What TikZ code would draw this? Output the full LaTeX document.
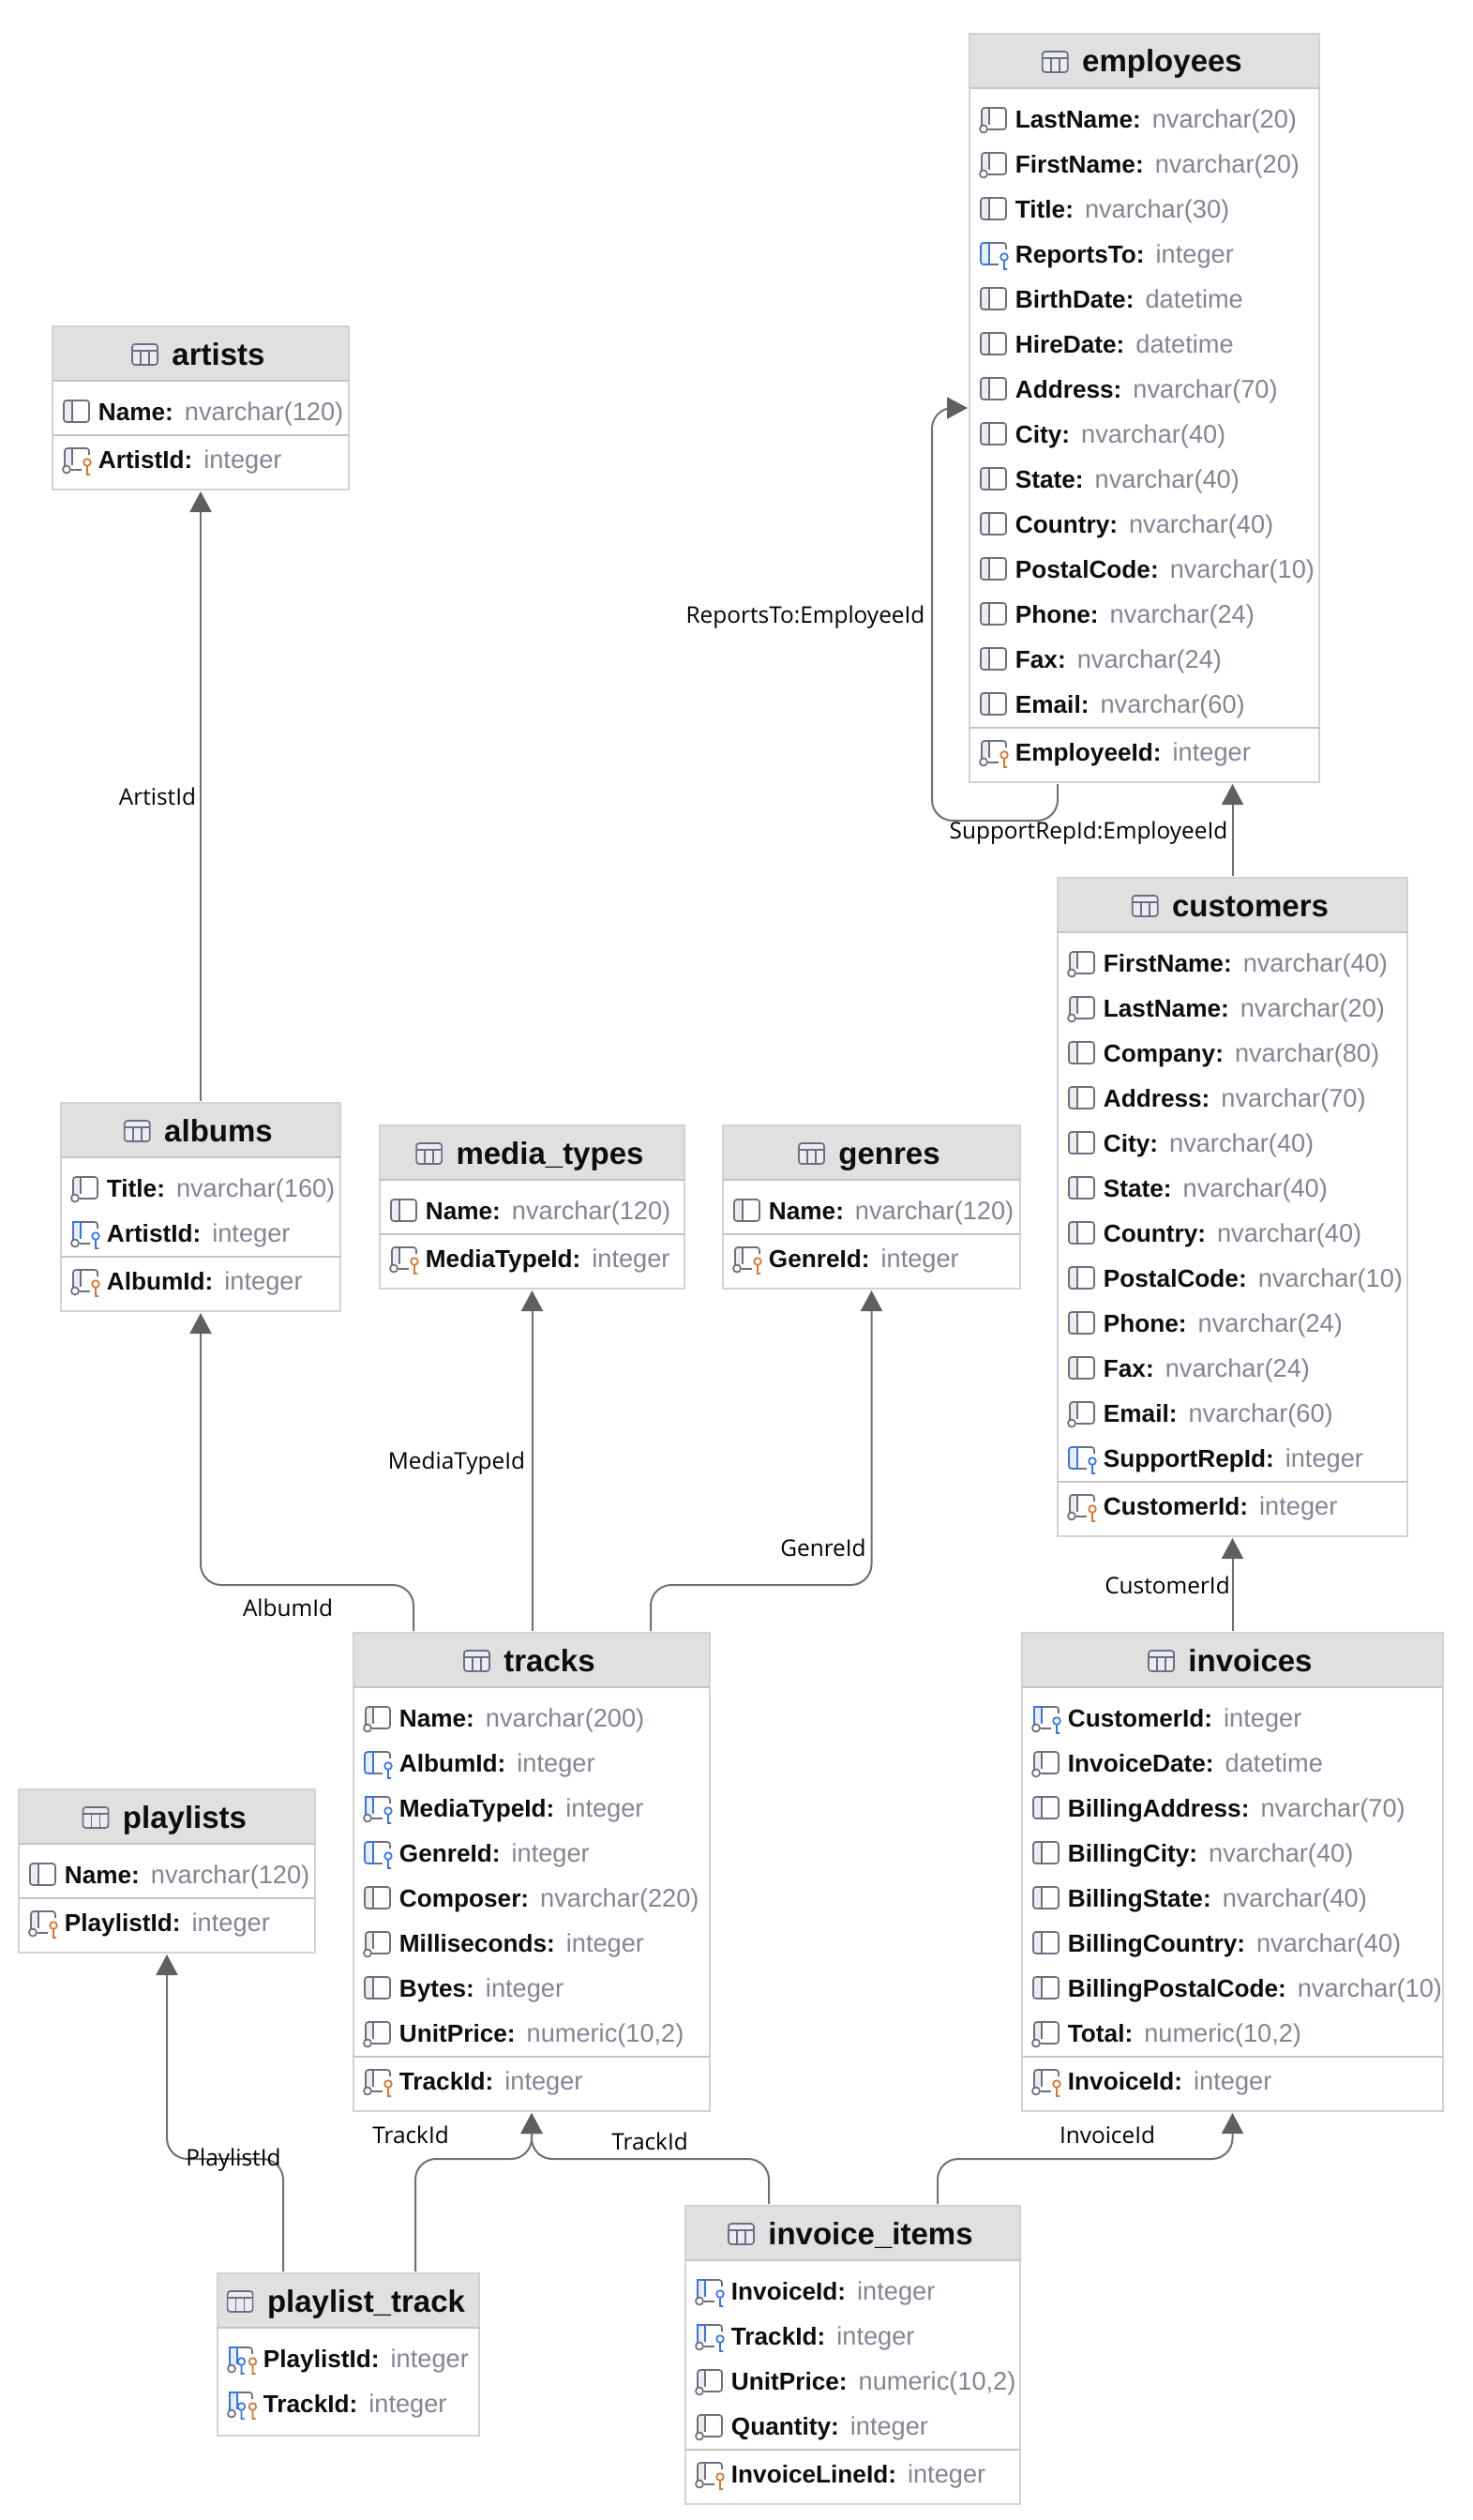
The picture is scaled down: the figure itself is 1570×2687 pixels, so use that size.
\documentclass[tikz,border=0pt]{standalone}
\usepackage{fontspec}
\setmainfont{Liberation Sans}
\newfontfamily\relfont{Open Sans}
\usetikzlibrary{arrows.meta}
\definecolor{framegrey}{HTML}{D2D2D2}
\definecolor{headgrey}{HTML}{E0E0E0}
\definecolor{lineg}{HTML}{C4C4C4}
\definecolor{typegrey}{HTML}{818594}
\definecolor{iconline}{HTML}{6C707E}
\definecolor{iconpanel}{HTML}{EBECF0}
\definecolor{fkblue}{HTML}{3574F0}
\definecolor{pkorange}{HTML}{D9752B}
\definecolor{relline}{HTML}{707070}
\definecolor{tipgrey}{HTML}{5F5F5F}
\tikzset{
  tableframe/.style={draw=framegrey, fill=white, line width=0.75pt, rectangle, anchor=north west, inner sep=0pt, outer sep=1pt, xshift=-1pt, yshift=1pt},
  tablehead/.style={draw=framegrey, fill=headgrey, line width=0.75pt, rectangle, anchor=north west, inner sep=0pt, outer sep=0pt, minimum height=29pt},
  tabletitle/.style={anchor=base, inner sep=0pt, font=\fontsize{16.5}{18}\selectfont\bfseries, text=black!95},
  fieldtext/.style={anchor=base west, inner sep=0pt, font=\fontsize{13.1}{15}\selectfont, text=black!95},
  divider/.style={draw=lineg, line width=1pt},
  rel/.style={draw=relline, line width=1pt, rounded corners=11pt, -{Triangle[length=11pt,width=11.5pt,color=tipgrey]}},
  rellabel/.style={inner sep=0pt, font=\relfont\fontsize{12.2}{14}\selectfont, text=black},
  icon/.style={draw=#1, line width=0.85pt},
  icon/.default=iconline,
  % column icons, origin at the middle of the left edge
  col/.pic={
    \fill[iconpanel] (0,-12) rectangle (9,11);
    \draw[icon, rounded corners=1.5pt] (0,-12) rectangle (27,11);
    \draw[icon] (9,-12) -- (9,11);
  },
  nul/.pic={
    \fill[iconpanel] (1,-12) rectangle (9,6);
    \draw[icon, rounded corners=1.5pt] (1,7) -- (1,-12) -- (27,-12) -- (27,11) -- (8,11);
    \draw[icon] (9,-12) -- (9,6);
    \draw[icon, fill=white] (3,10.5) circle (4);
  },
  fk/.pic={
    \fill[iconpanel] (0,-12) rectangle (9,11);
    \draw[icon, rounded corners=1.5pt] (9,-12) -- (27,-12) -- (27,-5);
    \draw[icon] (9,11) -- (19,11);
    \draw[icon=fkblue, rounded corners=1.5pt] (9,-12) -- (0,-12) -- (0,11) -- (9,11);
    \draw[icon=fkblue] (9,-12) -- (9,11);
    \draw[icon=fkblue] (25,3) circle (3.8) (25,7) -- (25,16) -- (28,16);
  },
  fkn/.pic={
    \fill[iconpanel] (1,-12) rectangle (9,6);
    \draw[icon, rounded corners=1.5pt] (9,-12) -- (27,-12) -- (27,-5);
    \draw[icon] (8,11) -- (19,11);
    \draw[icon=fkblue] (1,7) -- (1,-12) -- (9,-12) -- (9,6);
    \draw[icon, fill=white] (3,10.5) circle (4);
    \draw[icon=fkblue] (25,3) circle (3.8) (25,7) -- (25,16) -- (28,16);
  },
  pkey/.pic={
    \fill[iconpanel] (1,-12) rectangle (9,6);
    \draw[icon, rounded corners=1.5pt] (1,7) -- (1,-12) -- (27,-12) -- (27,-5);
    \draw[icon] (8,11) -- (19,11) (9,-12) -- (9,6);
    \draw[icon, fill=white] (3,10.5) circle (4);
    \draw[icon=pkorange] (25,3) circle (3.8) (25,7) -- (25,16) -- (28,16);
  },
  both/.pic={
    \fill[iconpanel] (1,-12) rectangle (9,6);
    \draw[icon, rounded corners=1.5pt] (9,-12) -- (25,-12) -- (25,-5);
    \draw[icon=fkblue] (1,7) -- (1,-12) -- (9,-12) -- (9,6);
    \draw[icon, fill=white] (3,10.5) circle (4);
    \draw[icon=fkblue] (13.5,3) circle (3.8) (13.5,7) -- (13.5,16) -- (16.5,16);
    \draw[icon=pkorange] (25.5,3) circle (3.8) (25.5,7) -- (25.5,16) -- (28.5,16);
  },
  tablegrid/.pic={
    \fill[iconpanel] (0,-11) rectangle (27,11);
    \draw[icon, rounded corners=1.5pt] (0,-11) rectangle (27,11);
    \draw[icon] (0,-4) -- (27,-4) (9,-4) -- (9,11) (18,-4) -- (18,11);
  }
}
% name, left, right, top, bottom, title, fields
\newcommand{\erdtable}[7]{
  \node[tableframe, minimum width={(#3-#2)*0.5pt}, minimum height={(#5-#4)*0.5pt}] (#1) at (#2,#4) {};
  \node[tablehead, minimum width={(#3-#2)*0.5pt}] (#1-head) at (#2,#4) {};
  \node[tabletitle] (#1-title) at ([xshift=9.5pt,yshift=-6pt]#1-head.center) {#6};
  \pic at ([xshift=-21pt,yshift=5.5pt]#1-title.base west) {tablegrid};
  \draw[divider] (#1-head.south west) -- (#1-head.south east);
  \foreach \kind/\fname/\ftype [count=\n] in {#7} {
    \pgfmathsetmacro{\rowy}{#4+91+48*(\n-1)}
    \pic at (#2+12,\rowy) {\kind};
    \node[fieldtext] (#1-\n) at (#2+48.5,\rowy+9.5) {\textbf{\fname:}\hspace{6pt}{\color{typegrey}\fontsize{13.6}{15}\selectfont\ftype}};
  }
}
% name, left, right, y of the divider, field
\newcommand{\erdkey}[5]{
  \draw[divider] (#2,#4) -- (#3,#4);
  \pic at (#2+12,#4+26) {pkey};
  \node[fieldtext] (#1-key) at (#2+48.5,#4+35.5) {\textbf{#5:}\hspace{6pt}{\color{typegrey}\fontsize{13.6}{15}\selectfont integer}};
}
\begin{document}
\begin{tikzpicture}[x=0.5pt, y=-0.5pt]
    \useasboundingbox (0,0) rectangle (1570,2687);

    % Place tables
    \erdtable{employees}{1034}{1407}{36}{834}{employees}{nul/LastName/nvarchar(20), nul/FirstName/nvarchar(20), col/Title/nvarchar(30), fk/ReportsTo/integer, col/BirthDate/datetime, col/HireDate/datetime, col/Address/nvarchar(70), col/City/nvarchar(40), col/State/nvarchar(40), col/Country/nvarchar(40), col/PostalCode/nvarchar(10), col/Phone/nvarchar(24), col/Fax/nvarchar(24), col/Email/nvarchar(60)}
    \erdkey{employees}{1034}{1407}{776}{EmployeeId}

    \erdtable{artists}{56}{372}{348}{522}{artists}{col/Name/nvarchar(120)}
    \erdkey{artists}{56}{372}{464}{ArtistId}

    \erdtable{customers}{1128}{1501}{936}{1638}{customers}{nul/FirstName/nvarchar(40), nul/LastName/nvarchar(20), col/Company/nvarchar(80), col/Address/nvarchar(70), col/City/nvarchar(40), col/State/nvarchar(40), col/Country/nvarchar(40), col/PostalCode/nvarchar(10), col/Phone/nvarchar(24), col/Fax/nvarchar(24), nul/Email/nvarchar(60), fk/SupportRepId/integer}
    \erdkey{customers}{1128}{1501}{1580}{CustomerId}

    \erdtable{albums}{65}{363}{1176}{1398}{albums}{nul/Title/nvarchar(160), fkn/ArtistId/integer}
    \erdkey{albums}{65}{363}{1340}{AlbumId}

    \erdtable{media_types}{405}{730}{1200}{1374}{media\_types}{col/Name/nvarchar(120)}
    \erdkey{media_types}{405}{730}{1316}{MediaTypeId}

    \erdtable{genres}{771}{1088}{1200}{1374}{genres}{col/Name/nvarchar(120)}
    \erdkey{genres}{771}{1088}{1316}{GenreId}

    \erdtable{tracks}{377}{757}{1741}{2251}{tracks}{nul/Name/nvarchar(200), fk/AlbumId/integer, fkn/MediaTypeId/integer, fk/GenreId/integer, col/Composer/nvarchar(220), nul/Milliseconds/integer, col/Bytes/integer, nul/UnitPrice/{numeric(10,2)}}
    \erdkey{tracks}{377}{757}{2193}{TrackId}

    \erdtable{invoices}{1090}{1539}{1741}{2251}{invoices}{fkn/CustomerId/integer, nul/InvoiceDate/datetime, col/BillingAddress/nvarchar(70), col/BillingCity/nvarchar(40), col/BillingState/nvarchar(40), col/BillingCountry/nvarchar(40), col/BillingPostalCode/nvarchar(10), nul/Total/{numeric(10,2)}}
    \erdkey{invoices}{1090}{1539}{2193}{InvoiceId}

    \erdtable{playlists}{20}{336}{1908}{2082}{playlists}{col/Name/nvarchar(120)}
    \erdkey{playlists}{20}{336}{2024}{PlaylistId}

    \erdtable{playlist_track}{232}{511}{2424}{2597}{playlist\_track}{both/PlaylistId/integer, both/TrackId/integer}

    \erdtable{invoice_items}{731}{1088}{2352}{2670}{invoice\_items}{fkn/InvoiceId/integer, fkn/TrackId/integer, nul/UnitPrice/{numeric(10,2)}, nul/Quantity/integer}
    \erdkey{invoice_items}{731}{1088}{2612}{InvoiceLineId}

    % Draw edges
    \path [rel] (albums.north) -- (artists.south);
    \path [rel] ([xshift=33pt]tracks.north west) -- ++(0,-49) -| (albums.south);
    \path [rel] (media_types.south |- tracks.north) -- (media_types.south);
    \path [rel] ([xshift=159.5pt]tracks.north west) -- ++(0,-49) -| (genres.south);
    \path [rel] (invoices.north) -- (customers.south);
    \path [rel] (customers.north) -- (customers.north |- employees.south);
    \path [rel] ([xshift=48pt]employees.south west) -- ++(0,39) -| ([xshift=-19pt]employees.west) -- (employees.west);
    \path [rel] ([xshift=36pt]playlist_track.north west) -- ++(0,-120) -| (playlists.south);
    \path [rel] ([xshift=106.5pt]playlist_track.north west) -- ++(0,-120) -| (tracks.south);
    \path [rel] ([xshift=45.5pt]invoice_items.north west) -- ++(0,-48) -| (tracks.south);
    \path [rel] ([xshift=135.5pt]invoice_items.north west) -- ++(0,-48) -| (invoices.south);

    % Edge labels
    \node [rellabel] (artist-label) at (168,849) {ArtistId};
    \node [rellabel] (album-label) at (307,1714) {AlbumId};
    \node [rellabel] (media-label) at (487,1560) {MediaTypeId};
    \node [rellabel] (genre-label) at (878,1650) {GenreId};
    \node [rellabel] (customer-label) at (1245,1690) {CustomerId};
    \node [rellabel] (support-label) at (1161,888) {SupportRepId:EmployeeId};
    \node [rellabel] (reports-label) at (859,658) {ReportsTo:EmployeeId};
    \node [rellabel] (playlist-label) at (249,2303) {PlaylistId};
    \node [rellabel] (trackleft-label) at (438,2276) {TrackId};
    \node [rellabel] (trackright-label) at (693,2283) {TrackId};
    \node [rellabel] (invoice-label) at (1181,2276) {InvoiceId};
\end{tikzpicture}
\end{document}
